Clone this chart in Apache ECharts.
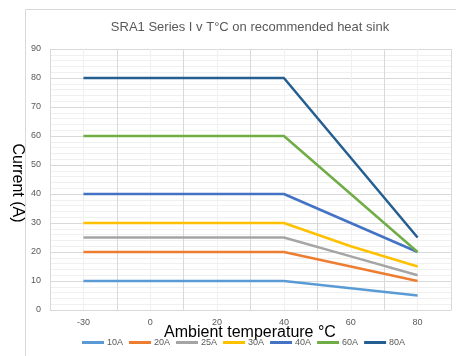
<!DOCTYPE html>
<html>
<head>
<meta charset="utf-8">
<script src="https://cdn.jsdelivr.net/npm/echarts@6/dist/echarts.min.js"></script>
<style>
  html, body { margin: 0; padding: 0; background: #fff; }
  #chart { width: 456px; height: 356px; }
</style>
</head>
<body>
<div id="chart"></div>
<script>
// Ambient temperature categories (°C)
const temperatures = ['-30', '0', '20', '40', '60', '80'];

// Permitted current (A) per rated series
const current10A = [10, 10, 10, 10, 7.5, 5];
const current20A = [20, 20, 20, 20, 15, 10];
const current25A = [25, 25, 25, 25, 18.5, 12];
const current30A = [30, 30, 30, 30, 22, 15];
const current40A = [40, 40, 40, 40, 30, 20];
const current60A = [60, 60, 60, 60, 40, 20];
const current80A = [80, 80, 80, 80, 52.5, 25];

const seriesNames = ['10A', '20A', '25A', '30A', '40A', '60A', '80A'];
const seriesValues = [current10A, current20A, current25A, current30A, current40A, current60A, current80A];
const seriesColors = ['#5B9BD5', '#ED7D31', '#A5A5A5', '#FFC000', '#4472C4', '#70AD47', '#255E91'];

const FONT = 'Liberation Sans, Arial, sans-serif';

const chart = echarts.init(document.getElementById('chart'), null, { renderer: 'canvas' });

chart.setOption({
  animation: false,
  backgroundColor: '#ffffff',
  textStyle: { fontFamily: FONT },
  graphic: [
    {
      type: 'rect',
      silent: true,
      z: -10,
      shape: { x: 25.5, y: 9.5, width: 460, height: 400 },
      style: { fill: 'none', stroke: '#d9d9d9', lineWidth: 1 }
    },
    {
      type: 'text',
      x: 250,
      y: 27,
      style: {
        text: 'SRA1 Series I v T°C on recommended heat sink',
        fill: '#595959',
        font: '13px ' + FONT,
        textAlign: 'center',
        textVerticalAlign: 'middle'
      }
    },
    {
      // x-axis title
      type: 'text',
      x: 250,
      y: 333,
      z: 1,
      style: {
        text: 'Ambient temperature °C',
        fill: '#000000',
        font: '16px ' + FONT,
        textAlign: 'center',
        textVerticalAlign: 'middle'
      }
    },
    {
      // y-axis title, reading top to bottom
      type: 'text',
      x: 17,
      y: 183,
      rotation: -Math.PI / 2,
      style: {
        text: 'Current (A)',
        fill: '#000000',
        font: '16px ' + FONT,
        textAlign: 'center',
        textVerticalAlign: 'middle'
      }
    }
  ],
  grid: { left: 50, top: 49, right: 5, bottom: 46, containLabel: false, outerBoundsMode: 'none' },
  legend: {
    left: 82,
    top: 338,
    padding: 0,
    z: 5,
    icon: 'rect',
    itemWidth: 22,
    itemHeight: 3,
    itemGap: 6,
    data: seriesNames,
    textStyle: { color: '#595959', fontSize: 9, fontFamily: FONT, padding: [0, 0, 0, -2] }
  },
  xAxis: [
    {
      type: 'category',
      data: temperatures,
      boundaryGap: true,
      axisLine: { show: true, lineStyle: { color: '#d9d9d9' } },
      axisTick: { show: false },
      axisLabel: { color: '#595959', fontSize: 9, margin: 8 },
      splitLine: { show: true, interval: 0, lineStyle: { color: '#d9d9d9', width: 1 } }
    },
    {
      // helper axis that only draws the light lines through each category centre
      type: 'value',
      min: 0,
      max: 6,
      interval: 1,
      show: true,
      position: 'bottom',
      axisLine: { show: false },
      axisTick: { show: false },
      axisLabel: { show: false },
      splitLine: { show: false },
      minorTick: { show: false, splitNumber: 2 },
      minorSplitLine: { show: true, lineStyle: { color: '#f0f0f0', width: 1 } }
    }
  ],
  yAxis: {
    type: 'value',
    min: 0,
    max: 90,
    interval: 10,
    axisLine: { show: false },
    axisTick: { show: false },
    axisLabel: { color: '#595959', fontSize: 9, margin: 9 },
    splitLine: { show: true, lineStyle: { color: '#d9d9d9', width: 1 } },
    minorTick: { show: false, splitNumber: 5 },
    minorSplitLine: { show: true, lineStyle: { color: '#f0f0f0', width: 1 } }
  },
  series: seriesNames.map((name, i) => ({
    name: name,
    type: 'line',
    xAxisIndex: 0,
    data: seriesValues[i],
    showSymbol: false,
    symbol: 'none',
    color: seriesColors[i],
    lineStyle: { color: seriesColors[i], width: 2.5 },
    z: 10
  }))
});
</script>
</body>
</html>
